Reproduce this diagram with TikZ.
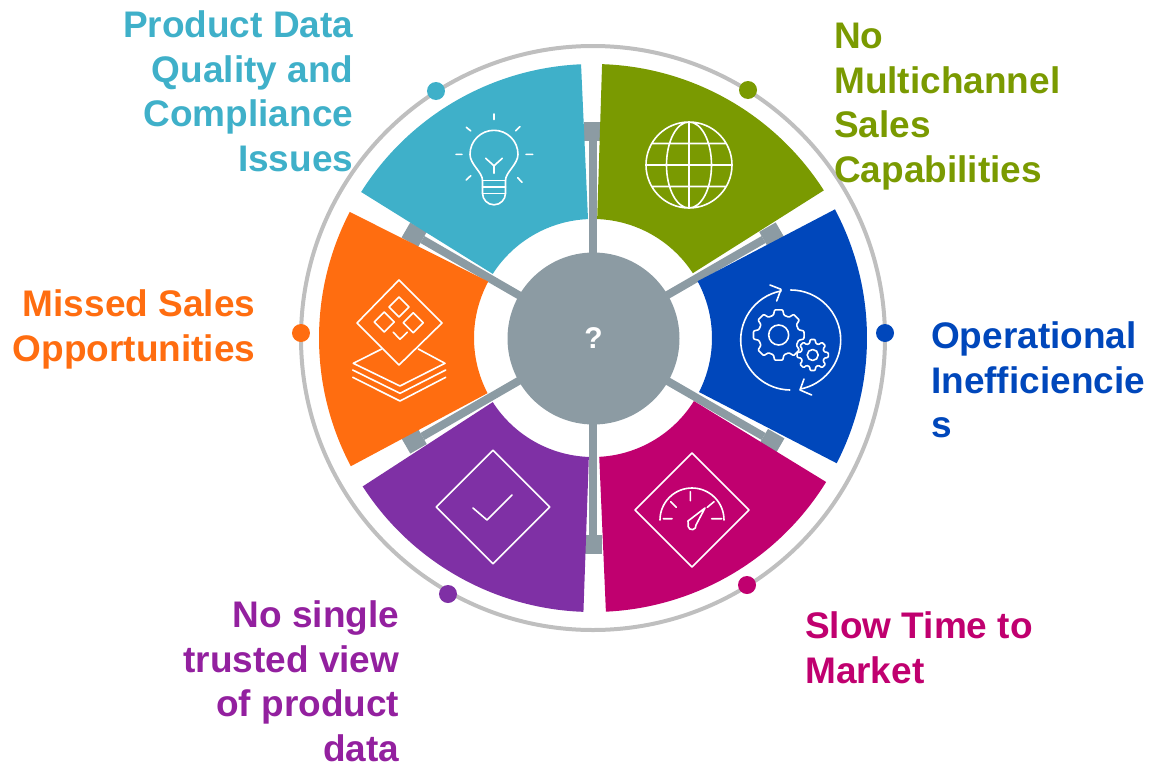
\documentclass[tikz,border=0pt]{standalone}
\usepackage{fontspec}
\setmainfont{Liberation Sans}
\definecolor{cteal}{HTML}{3FB0C9}
\definecolor{cgreen}{HTML}{7A9A01}
\definecolor{cblue}{HTML}{0047BB}
\definecolor{cmag}{HTML}{C0006F}
\definecolor{cpur}{HTML}{7F30A5}
\definecolor{cpurt}{HTML}{93209F}
\definecolor{corg}{HTML}{FF6D10}
\definecolor{cgray}{HTML}{8C9BA3}
\definecolor{cring}{HTML}{BFBFBF}
\newcommand{\sector}[5]{\fill[#1] (#2:274) arc[start angle=#2,end angle=#3,radius=274] -- (#5:119) arc[start angle=#5,end angle=#4,radius=119] -- cycle;}
\newcommand{\spoke}[2]{%
  \coordinate (#1a) at (#2:197);
  \coordinate (#1b) at (#2:216);
  \draw[spokeline] (hubc) -- (#1a);
  \draw[capline] (#1a) -- (#1b);}
\newcommand{\gearshape}[3]{% teeth outer, root, hole
  \draw[icon,rounded corners=0.9pt] (0:#1) \foreach \k in {0,45,...,315}{
     -- ({\k+9}:#1) -- ({\k+15}:#2) -- ({\k+30}:#2) -- ({\k+36}:#1) }
     -- cycle;
  \draw[icon] (0,0) circle[radius=#3];}
\tikzset{
  x=1pt,y=1pt,
  spokeline/.style={draw=cgray,line width=8pt},
  capline/.style={draw=cgray,line width=17.5pt},
  icon/.style={draw=white,line width=1.6pt,line cap=round,line join=round},
  dotm/.style={circle,inner sep=0pt,minimum size=18pt,fill=#1},
  lbl/.style={font=\fontsize{37}{44.6}\selectfont\bfseries,inner sep=0pt,text=#1},
  pix/.style={shift={(-593,338)},yscale=-1},
  at px/.style 2 args={shift={({#1-593},{338-#2})}},
}
\begin{document}
\begin{tikzpicture}
\useasboundingbox (-593,-426) rectangle (557,338);
\coordinate (hubc) at (0,0);
\draw[cring,line width=4pt] (0,0) circle[radius=292];
\spoke{sa}{90}\spoke{sb}{30}\spoke{sc}{-30}\spoke{sd}{-90}\spoke{se}{210}\spoke{sf}{150}
\sector{cteal}{92.5}{147.8}{92.4}{147.4}
\sector{cgreen}{32.6}{88.1}{33}{88}
\sector{cblue}{-27.2}{28}{-27}{28.5}
\sector{cmag}{-87.3}{-31.7}{-87}{-32}
\sector{cpur}{212.8}{268}{212.6}{268}
\sector{corg}{152.6}{207.9}{151.7}{207.6}
\node[circle,fill=cgray,minimum size=172pt,inner sep=0pt,text=white,font=\fontsize{30}{30}\selectfont\bfseries] (hub) at (0.5,-0.5) {?};
% dots
\node[dotm=cteal] (d1) at ({436-593},{338-91}) {};
\node[dotm=cgreen] (d2) at ({748-593},{338-90}) {};
\node[dotm=cblue] (d3) at ({885-593},{338-333}) {};
\node[dotm=cmag] (d4) at ({747-593},{338-585}) {};
\node[dotm=cpur] (d5) at ({448-593},{338-594}) {};
\node[dotm=corg] (d6) at ({301-593},{338-333}) {};
% labels
\node[lbl=cteal,align=right,anchor=north east] (t1) at ({353.5-593},{338-10.5}) {Product Data\\Quality and\\Compliance\\Issues};
\node[lbl=cgreen,align=left,anchor=north west] (t2) at ({834-593},{338-23}) {No\\Multichannel\\Sales\\Capabilities};
\node[lbl=cblue,align=left,anchor=north west] (t3) at ({931-593},{338-321.5}) {Operational\\Inefficiencie\\s};
\node[lbl=cmag,align=left,anchor=north west] (t4) at ({805-593},{338-611.5}) {Slow Time to\\Market};
\node[lbl=cpurt,align=right,anchor=north east] (t5) at ({399.5-593},{338-600.5}) {No single\\trusted view\\of product\\data};
\node[lbl=corg,align=right,anchor=north east] (t6) at ({255.5-593},{338-289.5}) {Missed Sales\\Opportunities};
% bulb
\begin{scope}[at px={494}{154.3}]
\draw[icon] (-11.5,-26) .. controls (-11.5,-18) and (-24,-10) .. (-24,0) arc[start angle=180,end angle=0,radius=24] .. controls (24,-10) and (11.5,-18) .. (11.5,-26) -- (11.5,-39) arc[start angle=0,end angle=-180,radius=11.5] -- cycle;
\draw[icon] (-11.5,-26) -- (11.5,-26) (-11.5,-32.5) -- (11.5,-32.5) (-11.5,-39) -- (11.5,-39);
\draw[icon] (-8.3,-4) -- (0,-11.5) -- (8.3,-4) (0,-11.5) -- (0,-19);
\draw[icon] (0,40.3) -- (0,34.7) (32,0) -- (38.7,0) (-38,0) -- (-32,0) (-27.7,27) -- (-23.3,23.4) (26,27.7) -- (21.7,23.4) (-27.7,-25.7) -- (-23.3,-21.4) (28,-28) -- (23.7,-23.4);
\end{scope}
% globe
\begin{scope}[at px={689}{165}]
\draw[icon] (0,0) circle[radius=43] (0,0) ellipse[x radius=22.5,y radius=43] (0,-43) -- (0,43) (-43,0) -- (43,0) (-37,21.5) -- (37,21.5) (-37,-21.5) -- (37,-21.5);
\end{scope}
% gears
\begin{scope}[at px={790.7}{340}]
\draw[icon] (101:50) arc[start angle=101,end angle=269,radius=50];
\draw[icon] (90:50) arc[start angle=90,end angle=-79,radius=50];
\end{scope}
\begin{scope}[pix]
\draw[icon] (770,285) -- (781,289.3) -- (776.7,301);
\draw[icon] (811.7,395) -- (800,390) -- (804,379);
\end{scope}
\begin{scope}[at px={778.7}{335}]
\gearshape{25.5}{20.5}{10}
\end{scope}
\begin{scope}[at px={812.7}{355}]
\gearshape{15.7}{12}{5.5}
\end{scope}
% orange icon
\begin{scope}[pix]
\draw[icon] (399,280) -- (442,323) -- (399,365) -- (357,323) -- cycle;
\draw[icon] (399,297) -- (409,307) -- (399,317) -- (389,307) -- cycle;
\draw[icon] (384.3,312) -- (394.3,322) -- (384.3,332) -- (374.3,322) -- cycle;
\draw[icon] (413.3,312.7) -- (423.3,322.7) -- (413.3,332.7) -- (403.3,322.7) -- cycle;
\draw[icon] (393.3,332.3) -- (400,339.3) -- (407.3,332.3);
\draw[icon] (381.7,349) -- (353.3,363.3) -- (400,386) -- (445,363.3) -- (418.3,349);
\draw[icon] (352.7,370) -- (400,393.3) -- (445.7,370);
\draw[icon] (352.7,377.3) -- (400,401) -- (445.7,377.3);
% check
\draw[icon] (493,450.3) -- (549.7,507) -- (493,563.7) -- (436.3,507) -- cycle;
\draw[icon] (473,508) -- (487,520) -- (512,495);
% gauge
\draw[icon] (692,453) -- (749,510) -- (692,567) -- (635,510) -- cycle;
\draw[icon] (663.3,518.7) -- (672,518.7) (711.7,518.7) -- (721.7,518.7) (690.3,491.7) -- (690.3,500.7) (670.7,501.7) -- (676.3,507.3) (707.3,507.3) -- (714,501.7);
\end{scope}
\begin{scope}[at px={692}{520}]
\draw[icon] (-32,0) arc[start angle=180,end angle=0,radius=32];
\draw[icon] (13,12) -- (4,-5) arc[start angle=10,end angle=-200,radius=4] -- (-4,-1) -- cycle;
\end{scope}
\end{tikzpicture}
\end{document}
